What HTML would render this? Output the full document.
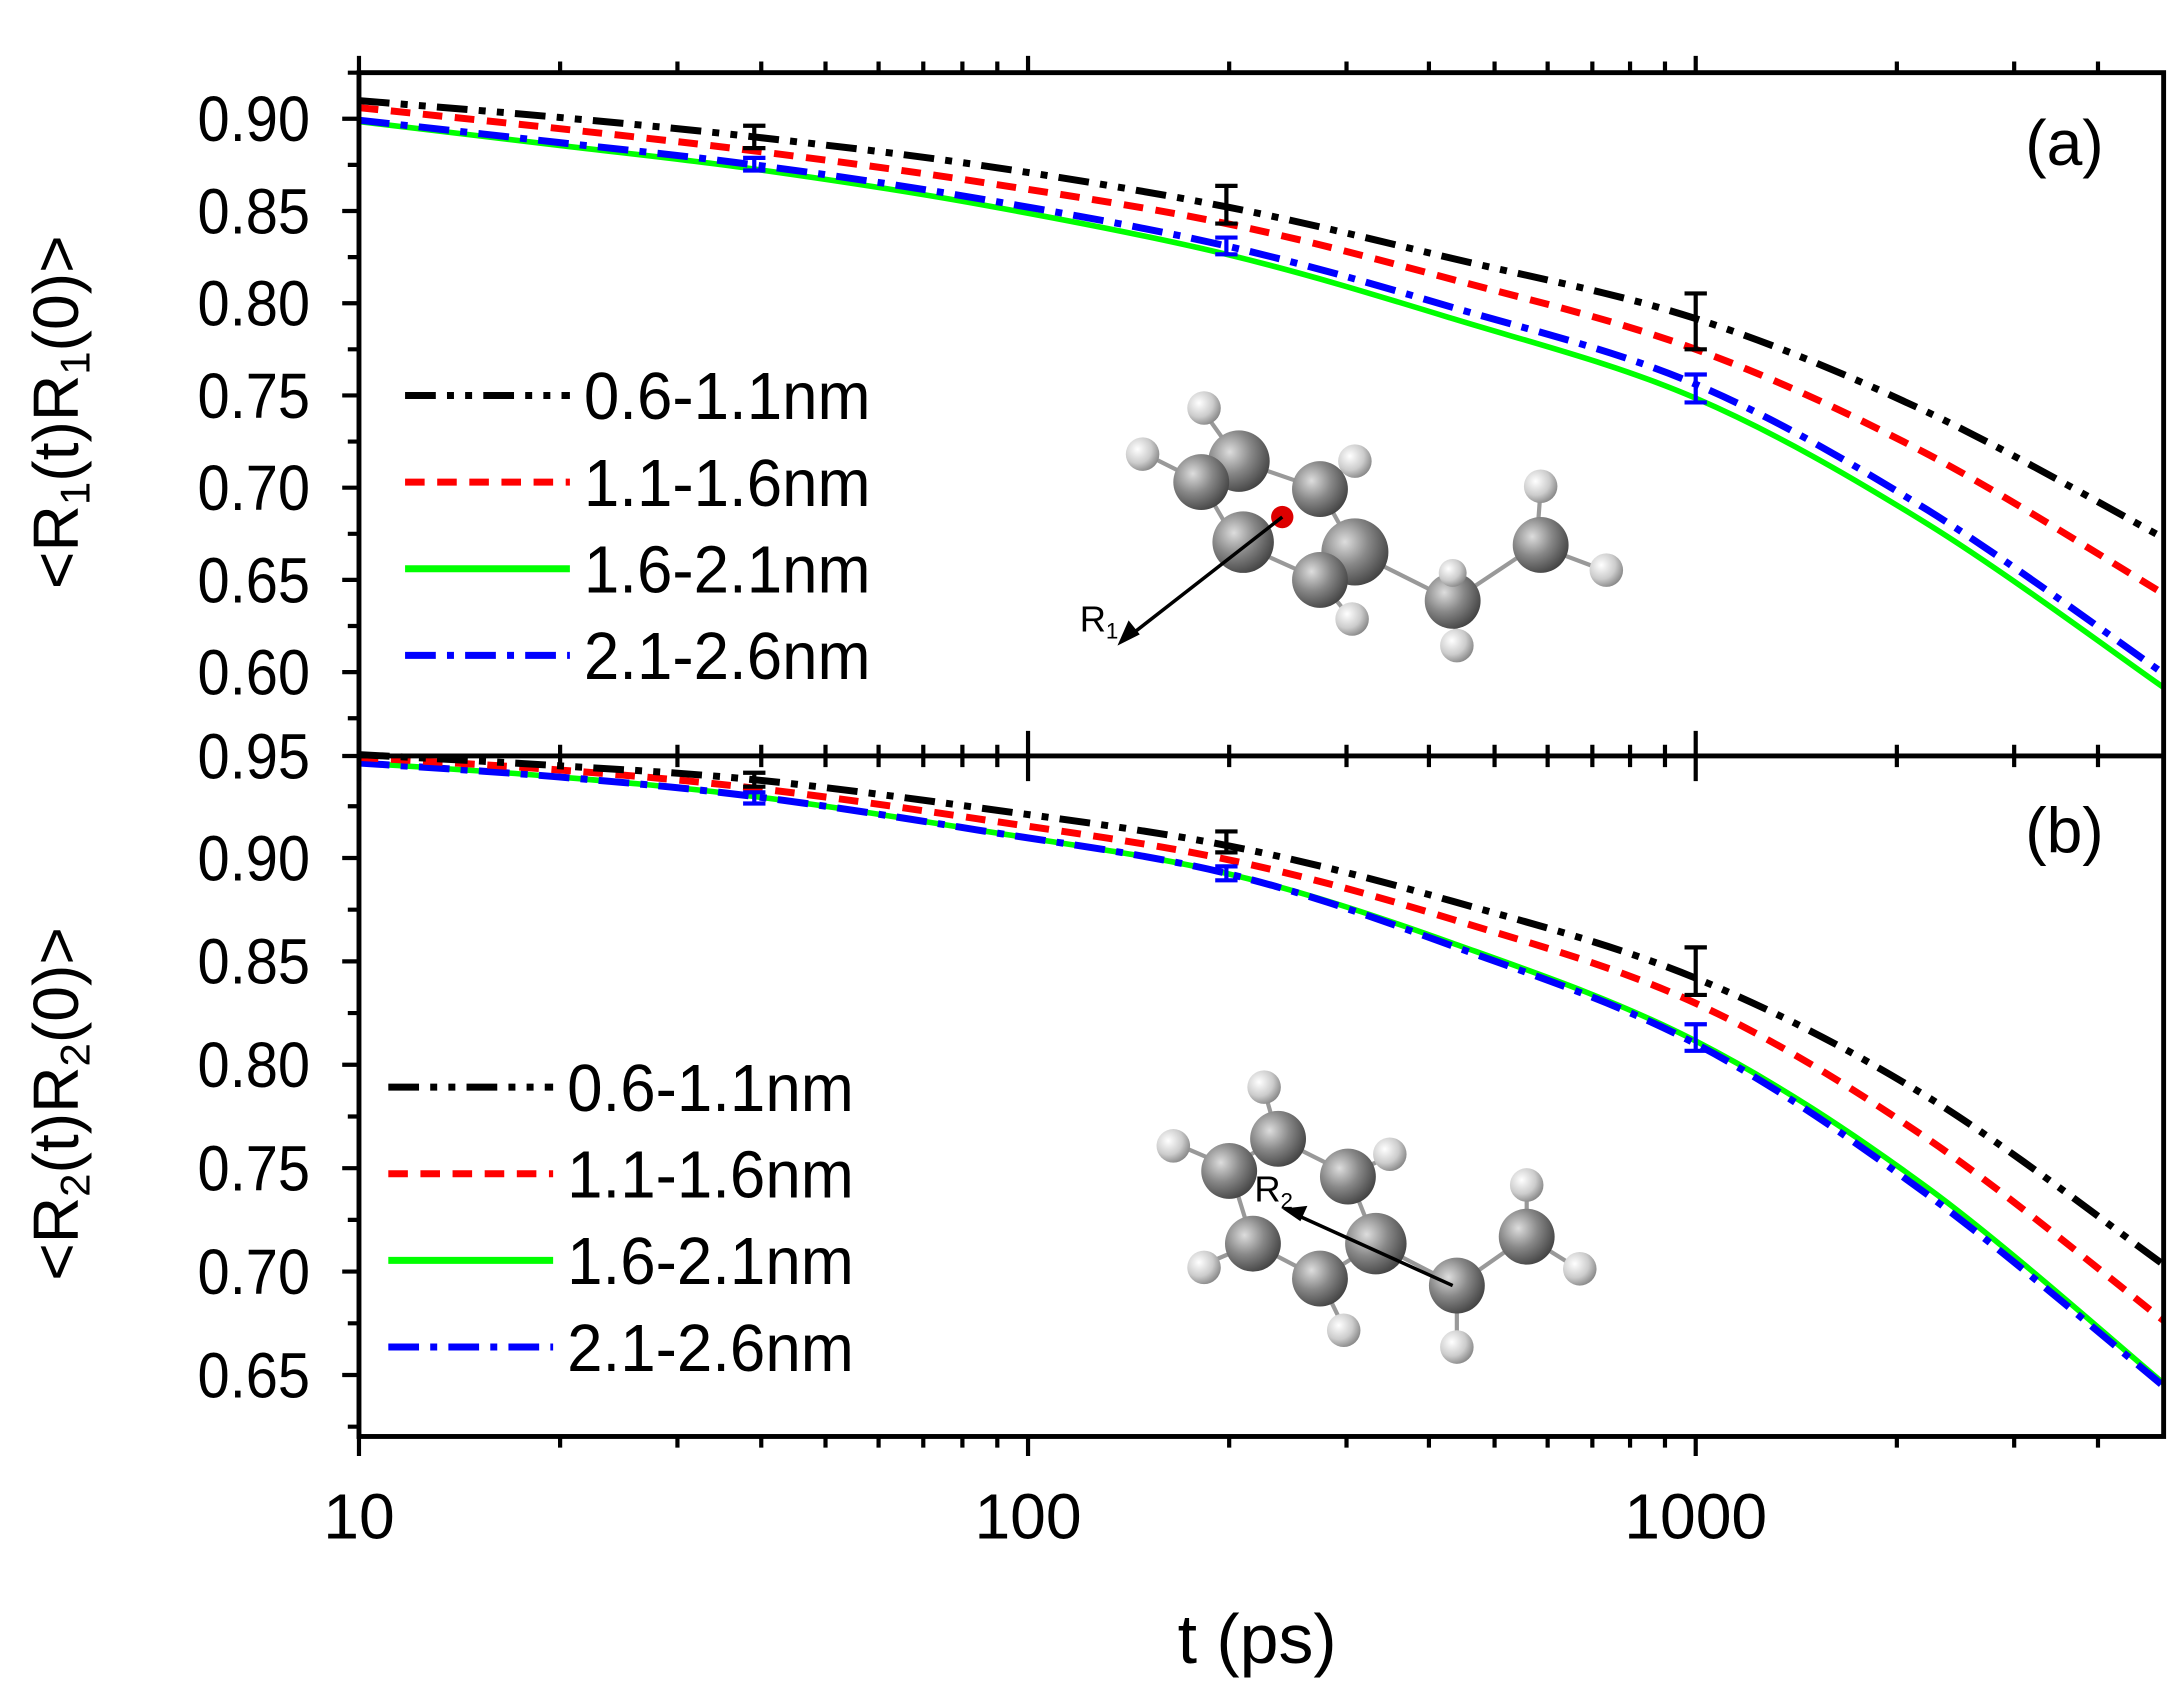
<!DOCTYPE html>
<html><head><style>html,body{margin:0;padding:0;background:#fff}svg{display:block}</style></head><body>
<svg id="s" width="2179" height="1688" viewBox="0 0 1560 1208" preserveAspectRatio="none" xmlns="http://www.w3.org/2000/svg" font-family="Liberation Sans, Arial, sans-serif">
<defs>
<radialGradient id="cg" cx="0.35" cy="0.35" r="0.7"><stop offset="0" stop-color="#ddd"/><stop offset="0.5" stop-color="#888"/><stop offset="1" stop-color="#444"/></radialGradient>
<radialGradient id="hg" cx="0.35" cy="0.35" r="0.7"><stop offset="0" stop-color="#fff"/><stop offset="0.6" stop-color="#ccc"/><stop offset="1" stop-color="#888"/></radialGradient>
</defs>
<g id="curves" fill="none" stroke-width="5"></g>
<!-- error bars -->
<g stroke-width="3" fill="none">
<path stroke="#000" d="M540,90V106M532,90H548M532,106H548 M878,133V160M870,133H886M870,160H886 M1214,210V250M1206,210H1222M1206,250H1222 M540,553V563M532,553H548M532,563H548 M878,595V610M870,595H886M870,610H886 M1214,678V712M1206,678H1222M1206,712H1222"/>
<path stroke="#0000ff" d="M540,113V122M532,113H548M532,122H548 M878,170V182M870,170H886M870,182H886 M1214,268V288M1206,268H1222M1206,288H1222 M540,567V575M532,567H548M532,575H548 M878,620V630M870,620H886M870,630H886 M1214,733V752M1206,733H1222M1206,752H1222"/>
</g>
<g stroke="#000" stroke-width="3.5" fill="none">
<rect x="257" y="52" width="1292" height="976"/>
<line x1="257" y1="541" x2="1549" y2="541"/>
</g>
<g stroke="#000" stroke-width="3">
<path d="M257,52V40M736,52V40M1214,52V40 M257,541V523M736,541V523M1214,541V523M257,541V559M736,541V559M1214,541V559 M257,1028V1042M736,1028V1042M1214,1028V1042"/>
<path d="M401,52V44M485,52V44M545,52V44M591,52V44M629,52V44M661,52V44M689,52V44M714,52V44 M880,52V44M964,52V44M1023,52V44M1070,52V44M1108,52V44M1140,52V44M1167,52V44M1192,52V44 M1358,52V44M1442,52V44M1502,52V44
M401,541V533M485,541V533M545,541V533M591,541V533M629,541V533M661,541V533M689,541V533M714,541V533M880,541V533M964,541V533M1023,541V533M1070,541V533M1108,541V533M1140,541V533M1167,541V533M1192,541V533M1358,541V533M1442,541V533M1502,541V533
M401,541V549M485,541V549M545,541V549M591,541V549M629,541V549M661,541V549M689,541V549M714,541V549M880,541V549M964,541V549M1023,541V549M1070,541V549M1108,541V549M1140,541V549M1167,541V549M1192,541V549M1358,541V549M1442,541V549M1502,541V549
M401,1028V1036M485,1028V1036M545,1028V1036M591,1028V1036M629,1028V1036M661,1028V1036M689,1028V1036M714,1028V1036M880,1028V1036M964,1028V1036M1023,1028V1036M1070,1028V1036M1108,1028V1036M1140,1028V1036M1167,1028V1036M1192,1028V1036M1358,1028V1036M1442,1028V1036M1502,1028V1036"/>
<path d="M257,85H245M257,151H245M257,217H245M257,283H245M257,349H245M257,415H245M257,481H245 M257,52H249M257,118H249M257,184H249M257,250H249M257,316H249M257,382H249M257,448H249M257,514H249"/>
<path d="M257,541H245M257,614H245M257,688H245M257,762H245M257,836H245M257,910H245M257,984H245 M257,577H249M257,651H249M257,725H249M257,799H249M257,873H249M257,947H249M257,1021H249"/>
</g>
<g font-size="46" text-anchor="end" fill="#000">
<g transform="translate(222,0) scale(0.9,1)">
<text x="0" y="101">0.90</text><text x="0" y="167">0.85</text><text x="0" y="233">0.80</text><text x="0" y="299">0.75</text><text x="0" y="365">0.70</text><text x="0" y="431">0.65</text><text x="0" y="497">0.60</text>
<text x="0" y="557">0.95</text><text x="0" y="630">0.90</text><text x="0" y="704">0.85</text><text x="0" y="778">0.80</text><text x="0" y="852">0.75</text><text x="0" y="926">0.70</text><text x="0" y="1000">0.65</text>
</g></g>
<g font-size="46" text-anchor="middle">
<text x="257" y="1101">10</text><text x="736" y="1101">100</text><text x="1214" y="1101">1000</text>
<text x="900" y="1190" font-size="50">t (ps)</text>
<text x="1478" y="118">(a)</text><text x="1478" y="610">(b)</text>
</g>
<text transform="translate(56,295) rotate(-90)" font-size="46" text-anchor="middle">&lt;R<tspan font-size="30" dy="8">1</tspan><tspan dy="-8">(t)R</tspan><tspan font-size="30" dy="8">1</tspan><tspan dy="-8">(0)&gt;</tspan></text>
<text transform="translate(56,790) rotate(-90)" font-size="46" text-anchor="middle">&lt;R<tspan font-size="30" dy="8">2</tspan><tspan dy="-8">(t)R</tspan><tspan font-size="30" dy="8">2</tspan><tspan dy="-8">(0)&gt;</tspan></text>
<g stroke-width="5" fill="none">
<line x1="290" y1="283" x2="408" y2="283" stroke="#000" stroke-dasharray="22,8,5,8,5,8"/>
<line x1="290" y1="345" x2="408" y2="345" stroke="#f00" stroke-dasharray="14,9"/>
<line x1="290" y1="407" x2="408" y2="407" stroke="#0f0"/>
<line x1="290" y1="469" x2="408" y2="469" stroke="#00f" stroke-dasharray="22,8,5,8"/>
<line x1="278" y1="778" x2="396" y2="778" stroke="#000" stroke-dasharray="22,8,5,8,5,8"/>
<line x1="278" y1="840" x2="396" y2="840" stroke="#f00" stroke-dasharray="14,9"/>
<line x1="278" y1="902" x2="396" y2="902" stroke="#0f0"/>
<line x1="278" y1="964" x2="396" y2="964" stroke="#00f" stroke-dasharray="22,8,5,8"/>
</g>
<g font-size="48">
<g transform="translate(418,0) scale(0.95,1)"><text x="0" y="300">0.6-1.1nm</text><text x="0" y="362">1.1-1.6nm</text><text x="0" y="424">1.6-2.1nm</text><text x="0" y="486">2.1-2.6nm</text></g>
<g transform="translate(406,0) scale(0.95,1)"><text x="0" y="795">0.6-1.1nm</text><text x="0" y="857">1.1-1.6nm</text><text x="0" y="919">1.6-2.1nm</text><text x="0" y="981">2.1-2.6nm</text></g>
</g>
<g stroke="#999" stroke-width="3" fill="none">
<path d="M862,295L887,330L860,345L885,388L945,415L965,440 M945,415L970,395L1040,430L1100,390L1148,408 M1040,430L1043,460 M1100,390L1103,350 M887,330L945,350L970,330 M945,350L970,395 M820,325L860,345"/>
</g>
<g>
<circle cx="887" cy="330" r="22" fill="url(#cg)"/><circle cx="860" cy="345" r="20" fill="url(#cg)"/><circle cx="945" cy="350" r="20" fill="url(#cg)"/>
<circle cx="890" cy="388" r="22" fill="url(#cg)"/><circle cx="970" cy="395" r="24" fill="url(#cg)"/><circle cx="945" cy="415" r="20" fill="url(#cg)"/>
<circle cx="1040" cy="430" r="20" fill="url(#cg)"/><circle cx="1103" cy="390" r="20" fill="url(#cg)"/>
<circle cx="862" cy="292" r="12" fill="url(#hg)"/><circle cx="818" cy="325" r="12" fill="url(#hg)"/><circle cx="970" cy="330" r="12" fill="url(#hg)"/><circle cx="968" cy="443" r="12" fill="url(#hg)"/>
<circle cx="1103" cy="348" r="12" fill="url(#hg)"/><circle cx="1150" cy="408" r="12" fill="url(#hg)"/><circle cx="1043" cy="462" r="12" fill="url(#hg)"/><circle cx="1040" cy="410" r="10" fill="url(#hg)"/>
<circle cx="918" cy="370" r="8" fill="#d00"/>
</g>
<path d="M918,370L805,458" stroke="#000" stroke-width="2.5"/><path d="M800,462l8,-18l8,10z" fill="#000"/>
<text x="773" y="452" font-size="26">R<tspan font-size="16" dy="5">1</tspan></text>
<g stroke="#999" stroke-width="3" fill="none">
<path d="M905,780L915,815L880,835L845,820 M915,815L965,840L995,828 M965,840L985,890L1043,920L1093,885L1130,908 M880,835L897,890L945,915L962,950 M945,915L985,890 M897,890L862,905 M1043,920L1043,962 M1093,885L1093,850"/>
</g>
<g>
<circle cx="915" cy="815" r="20" fill="url(#cg)"/><circle cx="880" cy="838" r="20" fill="url(#cg)"/><circle cx="965" cy="842" r="20" fill="url(#cg)"/>
<circle cx="897" cy="890" r="20" fill="url(#cg)"/><circle cx="985" cy="890" r="22" fill="url(#cg)"/><circle cx="945" cy="915" r="20" fill="url(#cg)"/>
<circle cx="1043" cy="920" r="20" fill="url(#cg)"/><circle cx="1093" cy="885" r="20" fill="url(#cg)"/>
<circle cx="905" cy="778" r="12" fill="url(#hg)"/><circle cx="840" cy="820" r="12" fill="url(#hg)"/><circle cx="995" cy="826" r="12" fill="url(#hg)"/><circle cx="862" cy="907" r="12" fill="url(#hg)"/>
<circle cx="962" cy="952" r="12" fill="url(#hg)"/><circle cx="1043" cy="964" r="12" fill="url(#hg)"/><circle cx="1093" cy="848" r="12" fill="url(#hg)"/><circle cx="1131" cy="908" r="12" fill="url(#hg)"/>
</g>
<path d="M1040,920L925,868" stroke="#000" stroke-width="2.5"/><path d="M918,865l18,-2l-5,11z" fill="#000"/>
<text x="898" y="860" font-size="26">R<tspan font-size="16" dy="5">2</tspan></text>
</svg>
<script>
var X=[257,400,540,700,878,1040,1214,1380,1549];
var S=[
["#00ff00","",[87,104,121,146,182,228,285,375,492]],
["#0000ff","22,8,5,8",[86,102,118,142,176,220,275,365,482]],
["#ff0000","14,9",[77,92,108,130,160,200,250,325,425]],
["#000000","22,8,5,8,5,8",[72,84,98,118,148,185,228,295,385]],
["#00ff00","",[546,556,570,594,625,675,745,850,990]],
["#0000ff","22,8,5,8",[546,556,570,594,625,677,747,855,992]],
["#ff0000","14,9",[542,551,564,586,615,658,718,815,945]],
["#000000","22,8,5,8,5,8",[540,548,558,578,605,645,700,785,905]]];
var g=document.getElementById("curves"),ns="http://www.w3.org/2000/svg";
S.forEach(function(s){var Y=s[2],d="M"+X[0]+","+Y[0];
for(var i=0;i<X.length-1;i++){var i0=Math.max(i-1,0),i3=Math.min(i+2,X.length-1);
var c1x=X[i]+(X[i+1]-X[i0])/6,c1y=Y[i]+(Y[i+1]-Y[i0])/6,c2x=X[i+1]-(X[i3]-X[i])/6,c2y=Y[i+1]-(Y[i3]-Y[i])/6;
d+=" C"+c1x+","+c1y+" "+c2x+","+c2y+" "+X[i+1]+","+Y[i+1];}
var p=document.createElementNS(ns,"path");p.setAttribute("d",d);p.setAttribute("stroke",s[0]);
if(s[1])p.setAttribute("stroke-dasharray",s[1]);else p.setAttribute("stroke-width","4");g.appendChild(p);});
</script>
</body></html>
